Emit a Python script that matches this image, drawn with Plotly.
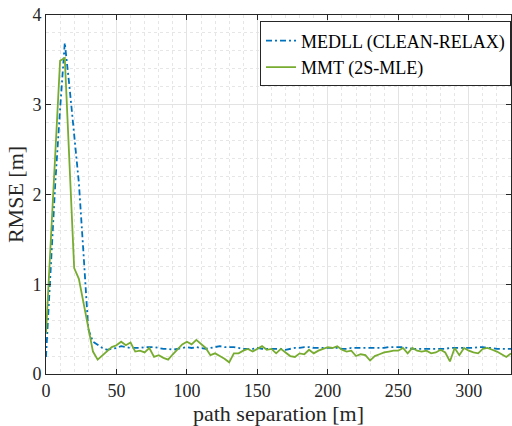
import plotly.graph_objects as go

# path separation grid [m]
x_sep = [round(i * 10 / 3, 2) for i in range(100)]

medll = [0.19, 1.15, 2.15, 2.95, 3.69, 3.2, 2.65, 2.13, 1.33, 0.50,
         0.36, 0.32, 0.29, 0.27, 0.28, 0.29, 0.31, 0.30, 0.29, 0.29,
         0.29, 0.30, 0.30, 0.30, 0.29, 0.28, 0.28, 0.27, 0.28, 0.29,
         0.30, 0.29, 0.30, 0.29, 0.28, 0.29, 0.30, 0.31, 0.30, 0.30,
         0.30, 0.29, 0.28, 0.28, 0.28, 0.29, 0.28, 0.28, 0.28, 0.28,
         0.28, 0.27, 0.28, 0.29, 0.29, 0.30, 0.30, 0.29, 0.29, 0.29,
         0.29, 0.29, 0.29, 0.28, 0.28, 0.29, 0.29, 0.29, 0.29, 0.29,
         0.29, 0.29, 0.29, 0.30, 0.30, 0.30, 0.30, 0.29, 0.28, 0.28,
         0.28, 0.28, 0.28, 0.28, 0.28, 0.28, 0.29, 0.29, 0.29, 0.29,
         0.29, 0.29, 0.30, 0.30, 0.29, 0.29, 0.28, 0.28, 0.28, 0.28]

mmt = [0.45, 1.46, 2.45, 3.49, 3.52, 2.3, 1.18, 1.06, 0.78, 0.50,
       0.25, 0.16, 0.21, 0.26, 0.30, 0.32, 0.36, 0.32, 0.35, 0.25,
       0.26, 0.24, 0.29, 0.19, 0.21, 0.18, 0.16, 0.22, 0.28, 0.33,
       0.36, 0.33, 0.38, 0.33, 0.29, 0.21, 0.23, 0.20, 0.17, 0.13,
       0.23, 0.23, 0.26, 0.28, 0.25, 0.28, 0.31, 0.27, 0.28, 0.23,
       0.28, 0.24, 0.20, 0.19, 0.23, 0.22, 0.27, 0.23, 0.26, 0.28,
       0.30, 0.29, 0.31, 0.27, 0.25, 0.26, 0.20, 0.22, 0.21, 0.15,
       0.20, 0.22, 0.24, 0.25, 0.26, 0.26, 0.29, 0.23, 0.29, 0.26,
       0.25, 0.26, 0.23, 0.24, 0.27, 0.24, 0.14, 0.29, 0.21, 0.29,
       0.26, 0.24, 0.23, 0.28, 0.29, 0.27, 0.25, 0.22, 0.19, 0.23]

series_names = ["MEDLL (CLEAN-RELAX)", "MMT (2S-MLE)"]
x_ticks = [0, 50, 100, 150, 200, 250, 300]
y_ticks = [0, 1, 2, 3, 4]

FONT = "Liberation Serif"
AX = "#262626"

fig = go.Figure()
fig.add_trace(go.Scatter(x=x_sep, y=medll, mode="lines", name=series_names[0],
                         line=dict(color="#0072BD", width=1.8, dash="6px,3px,2px,3px")))
fig.add_trace(go.Scatter(x=x_sep, y=mmt, mode="lines", name=series_names[1],
                         line=dict(color="#77AC30", width=1.8)))

axis_common = dict(showline=True, linecolor=AX, linewidth=1, mirror="ticks",
                   ticks="inside", ticklen=5, tickcolor=AX, tickwidth=1,
                   showgrid=True, gridcolor="#e3e3e3", gridwidth=1,
                   zeroline=False,
                   tickfont=dict(family=FONT, size=18, color=AX))

fig.update_xaxes(range=[0, 330], tickvals=x_ticks,
                 minor=dict(dtick=10, tick0=0, showgrid=True, gridcolor="#e6e6e6",
                            griddash="dot", gridwidth=1, ticks=""),
                 title=dict(text="path separation [m]", font=dict(family=FONT, size=22, color=AX),
                            standoff=6),
                 **axis_common)
fig.update_yaxes(range=[0, 4], tickvals=y_ticks,
                 minor=dict(dtick=0.2, tick0=0, showgrid=True, gridcolor="#e6e6e6",
                            griddash="dot", gridwidth=1, ticks=""),
                 title=dict(text="RMSE [m]", font=dict(family=FONT, size=22, color=AX),
                            standoff=2),
                 **axis_common)

fig.update_layout(
    width=512, height=426,
    margin=dict(l=46, r=1, t=15, b=52),
    plot_bgcolor="white", paper_bgcolor="white",
    legend=dict(x=1, y=0.982, xanchor="right", yanchor="top",
                bgcolor="white", bordercolor=AX, borderwidth=1,
                font=dict(family=FONT, size=18, color="black"),
                tracegroupgap=0, itemwidth=30),
)

fig.write_html("out.html")
